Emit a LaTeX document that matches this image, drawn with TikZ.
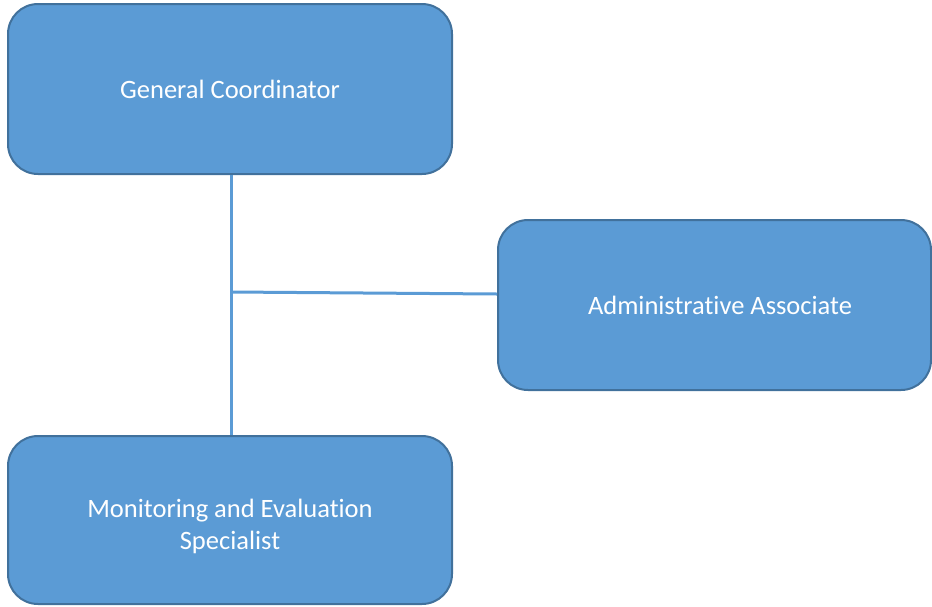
\documentclass[tikz,border=0pt]{standalone}
\usepackage{fontspec}
\setmainfont{Carlito}[Ligatures=NoCommon]
\definecolor{boxfill}{HTML}{5B9BD5}
\definecolor{boxedge}{HTML}{41719C}
\begin{document}
\begin{tikzpicture}[x=1pt,y=-1pt,
  orgbox/.style={draw=boxedge, line width=2pt, fill=boxfill, rounded corners=30pt,
    text=white, align=center, inner sep=0pt, font=\fontsize{26.5}{32}\selectfont},
  link/.style={draw=boxfill, line width=3pt}]
\useasboundingbox (0,0) rectangle (932,606);
% boxes
\node[orgbox, minimum width=444pt, minimum height=170pt] (gc) at (230,89) {General Coordinator};
\node[orgbox, minimum width=433pt, minimum height=170pt] (aa) at (714.5,305) {\hspace*{11pt}Administrative Associate};
\node[orgbox, minimum width=444pt, minimum height=168pt] (me) at (230,520) {\rule{0pt}{32pt}Monitoring and Evaluation\\Specialist};
% connectors
\coordinate (jn) at ([xshift=1pt]gc.south |- 0,292);
\coordinate (aaw) at ([yshift=11pt]aa.west);
\draw[link] ([xshift=1pt]gc.south) -- ([xshift=1pt]me.north);
\draw[link] (jn) -- (aaw);
\end{tikzpicture}
\end{document}
